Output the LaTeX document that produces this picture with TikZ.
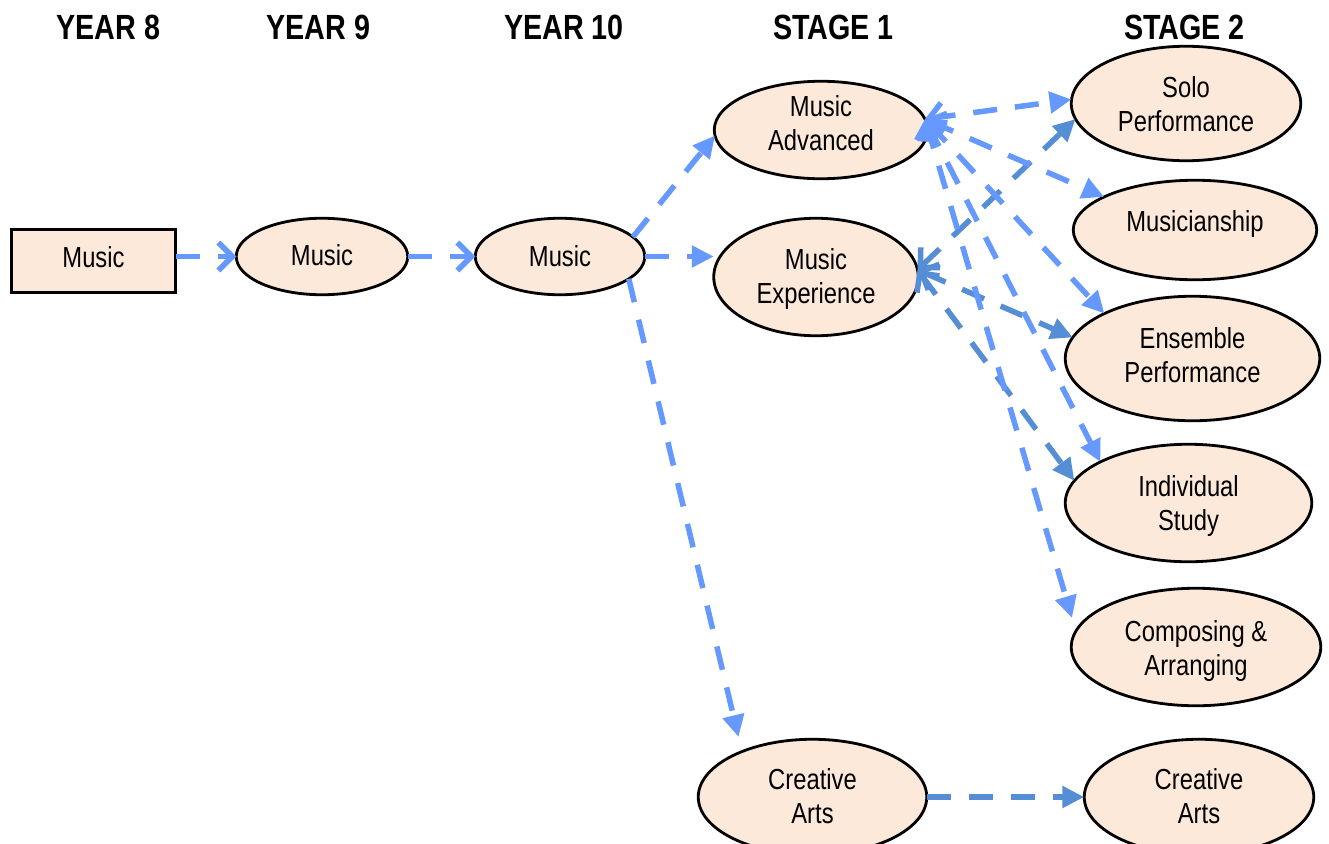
\documentclass[tikz,border=0pt]{standalone}
\usepackage{fontspec}
\newfontfamily\nodefont{Liberation Sans}[FakeStretch=0.82]
\usetikzlibrary{arrows.meta,calc,shapes.geometric}
\definecolor{lblue}{RGB}{102,153,255}
\definecolor{dblue}{RGB}{85,142,213}
\definecolor{peach}{RGB}{253,233,217}
\tikzset{
  course/.style={ellipse, draw=black, line width=2.8pt, fill=peach, inner sep=0pt, outer sep=0pt,
    font=\nodefont\fontsize{29}{34}\selectfont, text height=21pt},
  boxnode/.style={rectangle, draw=black, line width=2.8pt, fill=peach, inner sep=0pt, outer sep=0pt,
    font=\nodefont\fontsize{29}{34}\selectfont, text height=21pt},
  header/.style={font=\nodefont\bfseries\fontsize{35}{40}\selectfont, anchor=base, inner sep=0pt},
  link/.style={line width=5.5pt, dash pattern=on 24pt off 18pt},
  litelink/.style={link, draw=lblue},
  darklink/.style={link, draw=dblue},
  toChev/.style={-{Straight Barb[length=14pt,width=28pt]}},
  toTri/.style={-{Triangle[length=22pt,width=21pt]}},
  chevTri/.style={{Straight Barb[length=14pt,width=28pt]}-{Triangle[length=22pt,width=21pt]}},
}
\newcommand{\twolines}[2]{\begin{tabular}[t]{@{}c@{}}#1\\#2\end{tabular}}
\begin{document}
\begin{tikzpicture}[x=1pt,y=-1pt]
\useasboundingbox (0,0) rectangle (1329,843);
\clip (0,0) rectangle (1329,843);

% headers
\node[header] (h8)  at (108.5,40) {YEAR 8};
\node[header] (h9)  at (318.5,40) {YEAR 9};
\node[header] (h10) at (564,40)   {YEAR 10};
\node[header] (hs1) at (833.5,40) {STAGE 1};
\node[header] (hs2) at (1184.5,40) {STAGE 2};

% nodes
\node[boxnode, minimum width=164.5pt, minimum height=63.5pt, text depth=8.2pt] (y8) at (93.5,261) {Music};
\node[course, minimum width=171.5pt, minimum height=76.5pt, text depth=3.2pt] (y9) at (322,256.5) {Music};
\node[course, minimum width=169.5pt, minimum height=76.5pt, text depth=1.2pt] (y10) at (560,256.5) {Music};
\node[course, minimum width=213.5pt, minimum height=97.5pt, text depth=47.2pt] (ma) at (821,130) {\twolines{Music}{Advanced}};
\node[course, minimum width=204.5pt, minimum height=117.5pt, text depth=35.2pt] (me) at (816,277) {\twolines{Music}{Experience}};
\node[course, minimum width=228.5pt, minimum height=115.5pt, text depth=35.2pt] (ca1) at (812.5,797) {\twolines{Creative}{Arts}};
\node[course, minimum width=229.5pt, minimum height=114.5pt, text depth=33.2pt] (solo) at (1186,103.5) {\twolines{Solo}{Performance}};
\node[course, minimum width=243.5pt, minimum height=99.5pt, text depth=18.2pt] (mus) at (1195,230) {Musicianship};
\node[course, minimum width=254.5pt, minimum height=124.5pt, text depth=41.2pt] (ens) at (1192.5,358.5) {\twolines{Ensemble}{Performance}};
\node[course, minimum width=246.5pt, minimum height=117.5pt, text depth=34.2pt] (ind) at (1188.5,503) {\twolines{Individual}{Study}};
\node[course, minimum width=249.5pt, minimum height=117.5pt, text depth=31.2pt] (comp) at (1196,647) {\twolines{Composing \&}{Arranging}};
\node[course, minimum width=229.5pt, minimum height=115.5pt, text depth=35.2pt] (ca2) at (1199,797) {\twolines{Creative}{Arts}};

% connectors
\draw[litelink, toChev] (y8.east |- y9.center) -- (y9.west);
\draw[litelink, toChev] (y9.east) -- (y10.west);
\draw[litelink, toTri] (y10.15) -- (ma.183);
\draw[litelink, toTri] (y10.east) -- (me.west |- y10.east);
\draw[litelink, toTri] (y10.-18) -- ($(ca1.center)+(-74,-60)$);
\draw[darklink, toTri] (ca1.east) -- (ca2.west);

\draw[darklink, chevTri] (me.4) -- (solo.188);
\draw[darklink, chevTri] (me.4) -- (ens.170);
\draw[darklink, chevTri] (me.4) -- (ind.169);

\draw[litelink, chevTri] (ma.6) -- (solo.178);
\draw[litelink, chevTri] (ma.6) -- (mus.160);
\draw[litelink, chevTri] (ma.6) -- (ens.153);
\draw[litelink, chevTri] (ma.6) -- (ind.155);
\draw[litelink, chevTri] (ma.6) -- ($(comp.center)+(-124,-29)$);
\end{tikzpicture}
\end{document}
